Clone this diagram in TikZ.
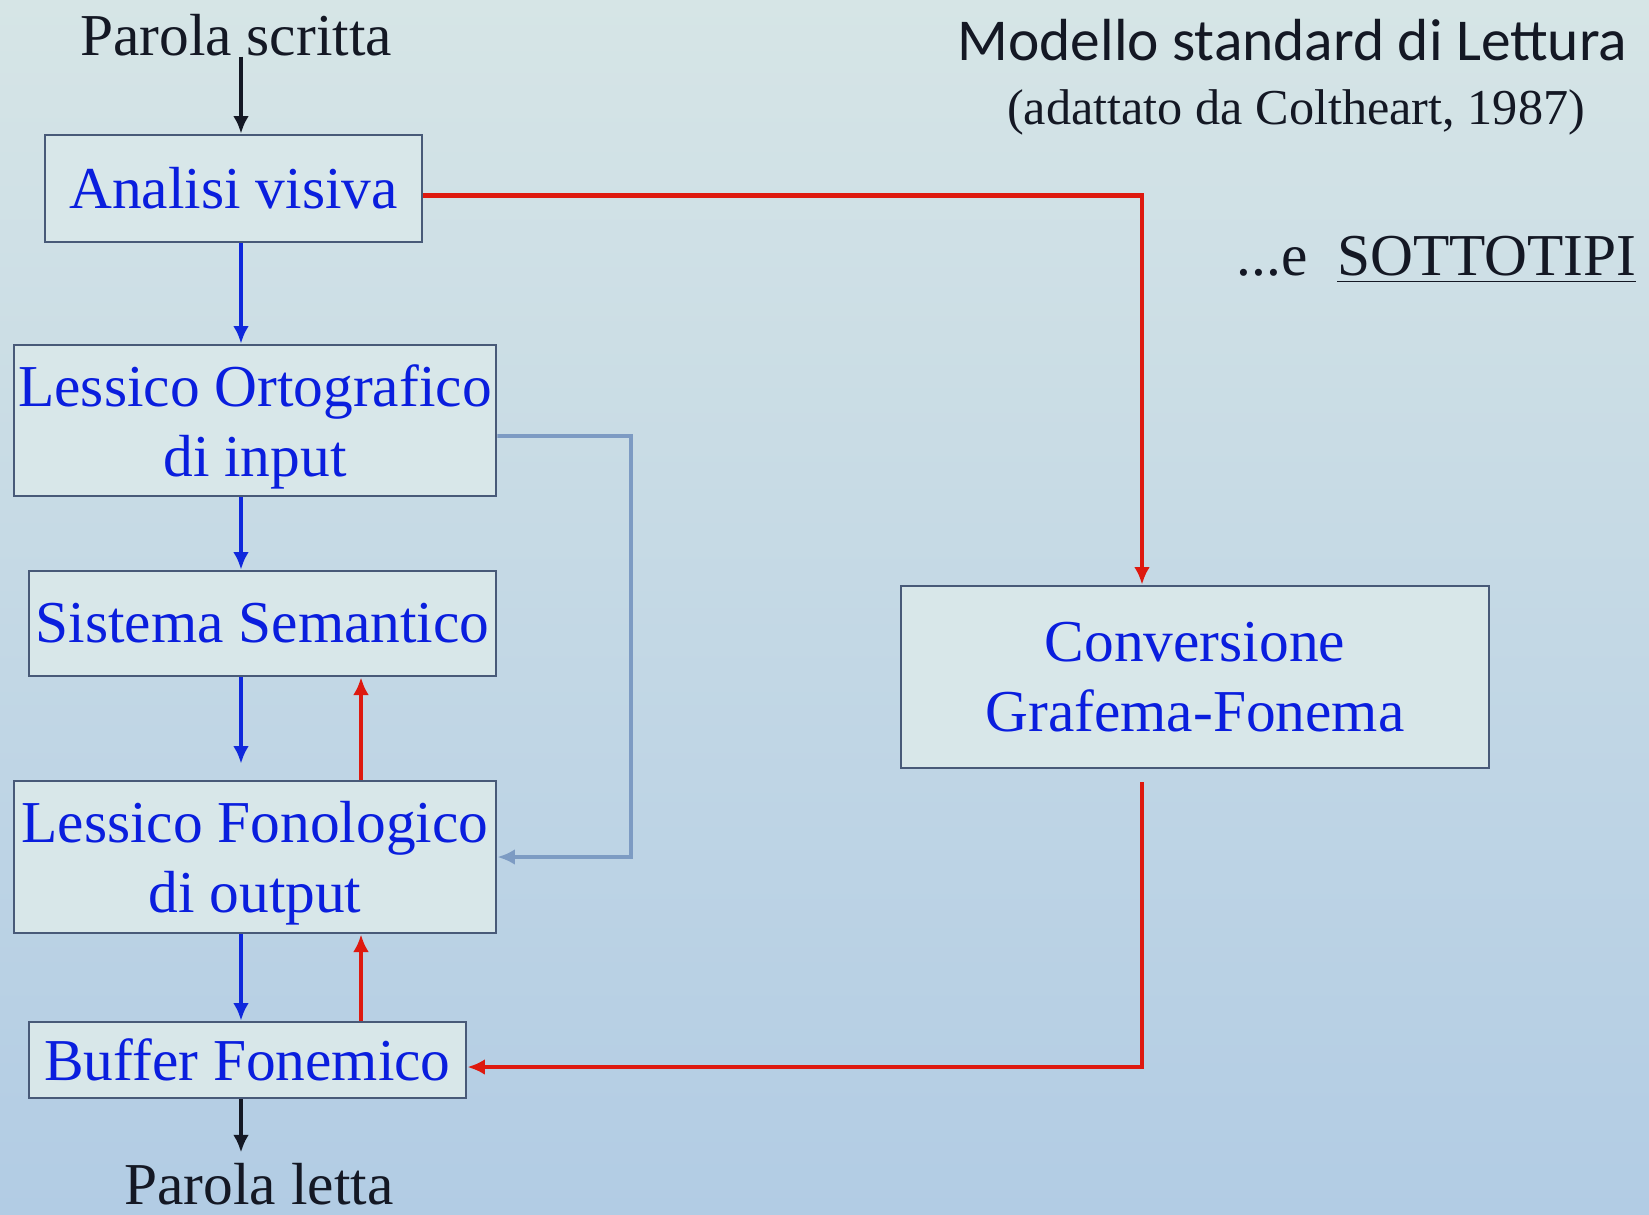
\documentclass[tikz,border=0pt]{standalone}
\usepackage{fontspec}
\setmainfont{Liberation Serif}
\newfontfamily\titlefont{Carlito}
\usetikzlibrary{arrows.meta}

\begin{document}
\begin{tikzpicture}[
    box/.style={draw=boxline, line width=0.8pt, fill=boxfill, text=boxtext, inner sep=0pt, align=center, font=\fontsize{16.9}{19.9}\selectfont},
    wordlabel/.style={inner sep=0pt, text=inktext, font=\fontsize{16.9}{19.9}\selectfont},
    link/.style={-{Latex[length=5pt,width=4.5pt]}, line width=1.4pt},
]
    \definecolor{bgtop}{RGB}{214,229,230}
    \definecolor{bgbot}{RGB}{178,204,228}
    \definecolor{boxfill}{RGB}{216,231,233}
    \definecolor{boxline}{RGB}{72,90,120}
    \definecolor{boxtext}{RGB}{10,30,222}
    \definecolor{inktext}{RGB}{20,24,36}
    \definecolor{bluearrow}{RGB}{15,40,220}
    \definecolor{redarrow}{RGB}{222,25,15}
    \definecolor{grayarrow}{RGB}{125,155,195}

    \shade[top color=bgtop, bottom color=bgbot] (0,0) rectangle (16.49,-12.14);
    \useasboundingbox (0,0) rectangle (16.49,-12.14);

    \coordinate (col) at (2.41,0);
    \coordinate (up) at (3.61,0);
    \coordinate (redcol) at (11.42,0);
    \coordinate (loop) at (6.31,-4.36);

    \node[wordlabel] (scritta) at (2.36,-0.35) {Parola scritta};
    \node[box, minimum width=3.77cm, minimum height=1.07cm] (analisi) at (2.335,-1.885) {Analisi visiva};
    \node[box, text depth=0pt, minimum width=4.82cm, minimum height=1.51cm] (lexin) at (2.55,-4.205) {Lessico Ortografico\\di input};
    \node[box, minimum width=4.67cm, minimum height=1.05cm] (sem) at (2.625,-6.235) {Sistema Semantico};
    \node[box, text depth=0pt, minimum width=4.82cm, minimum height=1.52cm] (lexout) at (2.55,-8.57) {Lessico Fonologico\\di output};
    \node[box, minimum width=4.37cm, minimum height=0.76cm] (buffer) at (2.475,-10.6) {Buffer Fonemico};
    \node[wordlabel] (letta) at (2.59,-11.84) {Parola letta};
    \node[box, minimum width=5.88cm, minimum height=1.82cm] (gpc) at (11.95,-6.77) {Conversione\\Grafema-Fonema};

    \node[wordlabel, anchor=east, font=\titlefont\fontsize{16.9}{19.9}\selectfont] (title) at (16.28,-0.405) {Modello standard di Lettura};
    \node[wordlabel, font=\fontsize{14.3}{17}\selectfont] (source) at (12.96,-1.125) {(adattato da Coltheart, 1987)};
    \node[wordlabel, anchor=east] (subtypes) at (16.37,-2.6) {...e\ \ \underline{SOTTOTIPI}};

    \draw[link, inktext, line width=1pt] (scritta.south -| col) -- (analisi.north -| col);
    \foreach \a/\b in {analisi/lexin, lexin/sem, lexout/buffer}
        \draw[link, bluearrow] (\a.south -| col) -- (\b.north -| col);
    \draw[link, bluearrow, shorten >=1.6mm] (sem.south -| col) -- (lexout.north -| col);
    \draw[link, redarrow] (lexout.north -| up) -- (sem.south -| up);
    \draw[link, redarrow] (buffer.north -| up) -- (lexout.south -| up);
    \draw[link, inktext, line width=1pt, shorten >=1mm] (buffer.south -| col) -- (letta.north -| col);

    \draw[link, grayarrow, line width=1.1pt] ([yshift=-1.55mm]lexin.east) -- (loop) |- (lexout.east);
    \draw[link, redarrow] ([yshift=-0.7mm]analisi.east) -| (gpc.north -| redcol);
    \draw[link, redarrow, shorten <=1.3mm] (gpc.south -| redcol) |- ([yshift=-0.7mm]buffer.east);

\end{tikzpicture}
\end{document}
